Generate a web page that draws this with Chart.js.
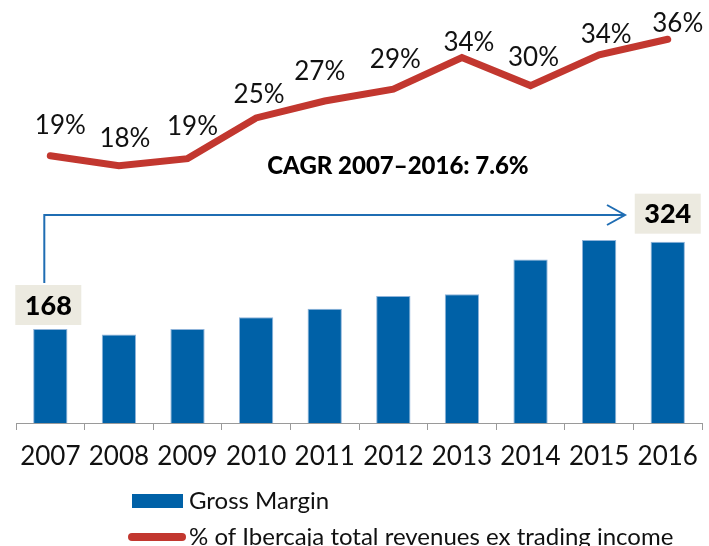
<!DOCTYPE html>
<html>
<head>
<meta charset="utf-8">
<script src="https://cdn.jsdelivr.net/npm/chart.js@4.4.1/dist/chart.umd.min.js"></script>
<style>
  html, body { margin: 0; padding: 0; background: #fff; }
  #wrap { position: relative; width: 709px; height: 546px; }
</style>
</head>
<body>
<div id="wrap"><canvas id="chart"></canvas></div>
<script>
// data
var years = ["2007", "2008", "2009", "2010", "2011", "2012", "2013", "2014", "2015", "2016"];
var grossMargin = [168, 158, 168, 189, 204, 227, 230, 292, 327, 324];
var revenueShare = [19.4, 18.0, 19.0, 24.8, 27.2, 28.9, 33.4, 29.4, 33.8, 36.0];
var shareLabels = ["19%", "18%", "19%", "25%", "27%", "29%", "34%", "30%", "34%", "36%"];
var calloutIdx = [0, 9];
var cagrText = "CAGR 2007\u20132016: 7.6%";

var FONT = "Lato, 'Open Sans', sans-serif";
var BLUE = "#0061A7";
var RED = "#C2372F";

// labels, callouts, arrow and legend drawn on top of the chart
var extras = {
    id: "extras",
    afterDatasetsDraw: function (chart, args, opts) {
        var ctx = chart.ctx;
        var lineMeta = chart.getDatasetMeta(1);
        var barMeta = chart.getDatasetMeta(0);

        ctx.save();
        // % labels over the line
        ctx.fillStyle = "#111";
        ctx.font = "26px " + FONT;
        ctx.textAlign = "center";
        ctx.textBaseline = "middle";
        lineMeta.data.forEach(function (pt, i) {
            ctx.fillText(shareLabels[i], pt.x + opts.shiftX[i], pt.y - 28 + opts.shiftY[i]);
        });

        // CAGR arrow
        var b0 = barMeta.data[calloutIdx[0]];
        var ax = b0.x - 6;
        var ay = 215;
        var tipX = 625;
        ctx.strokeStyle = "#1F6DB3";
        ctx.lineWidth = 2;
        ctx.beginPath();
        ctx.moveTo(ax, b0.y - 46);
        ctx.lineTo(ax, ay);
        ctx.lineTo(tipX, ay);
        ctx.stroke();
        ctx.beginPath();
        ctx.moveTo(tipX - 18, ay - 10);
        ctx.lineTo(tipX, ay);
        ctx.lineTo(tipX - 18, ay + 10);
        ctx.stroke();

        // CAGR text
        ctx.fillStyle = "#000";
        ctx.font = "900 24px " + FONT;
        ctx.fillText(cagrText, 398, 166);

        // boxed value callouts
        calloutIdx.forEach(function (idx, k) {
            var bar = barMeta.data[idx];
            var bw = 66, bh = 40;
            var bottom = bar.y - opts.calloutGap[k];
            var cx = bar.x + opts.calloutShift[k];
            ctx.fillStyle = "#ECEAE0";
            ctx.fillRect(cx - bw / 2, bottom - bh, bw, bh);
            ctx.fillStyle = "#000";
            ctx.font = "900 27px " + FONT;
            ctx.fillText(String(grossMargin[idx]), cx, bottom - bh / 2 + 1);
        });

        // legend
        ctx.textAlign = "left";
        ctx.font = "24px " + FONT;
        ctx.fillStyle = BLUE;
        ctx.fillRect(132, 494, 51, 14);
        ctx.fillStyle = "#111";
        ctx.fillText(chart.data.datasets[0].label, 189, 501);
        ctx.strokeStyle = RED;
        ctx.lineWidth = 8;
        ctx.lineCap = "round";
        ctx.beginPath();
        ctx.moveTo(132, 537);
        ctx.lineTo(182, 537);
        ctx.stroke();
        ctx.fillText(chart.data.datasets[1].label, 189, 537);
        ctx.restore();
    }
};

new Chart(document.getElementById("chart"), {
    data: {
        labels: years,
        datasets: [
            {
                type: "bar",
                label: "Gross Margin",
                data: grossMargin,
                backgroundColor: BLUE,
                borderColor: "#8FB4DA",
                borderWidth: 1,
                barPercentage: 0.5,
                categoryPercentage: 1,
                yAxisID: "y",
                order: 2
            },
            {
                type: "line",
                label: "% of Ibercaja total revenues ex trading income",
                data: revenueShare,
                borderColor: RED,
                borderWidth: 7,
                borderCapStyle: "round",
                borderJoinStyle: "miter",
                pointRadius: 0,
                tension: 0,
                yAxisID: "y2",
                order: 1
            }
        ]
    },
    options: {
        responsive: true,
        maintainAspectRatio: false,
        animation: false,
        layout: { padding: { top: 10, left: 16, right: 2, bottom: 76 } },
        plugins: {
            legend: { display: false },
            tooltip: { enabled: false },
            extras: {
                shiftX: [10, 6, 5, 3, -5, 2, 7, 3, 7, 10],
                shiftY: [-2, 1, -4, 5, -1, -2, 13, 0, 8, 12],
                calloutGap: [4, 8],
                calloutShift: [-2, 0]
            }
        },
        scales: {
            x: {
                offset: true,
                grid: {
                    offset: true,
                    drawOnChartArea: false,
                    drawTicks: true,
                    tickLength: 7,
                    color: "#9A9A9A"
                },
                border: { color: "#9A9A9A", width: 1 },
                ticks: {
                    color: "#111",
                    padding: 11,
                    font: { family: FONT, size: 26 }
                },
                afterFit: function (scale) {
                    scale.height = 47;
                }
            },
            y: { display: false, min: 0, max: 738 },
            y2: { display: false, min: -18.66, max: 40.17 }
        }
    },
    plugins: [extras]
});
</script>
</body>
</html>
